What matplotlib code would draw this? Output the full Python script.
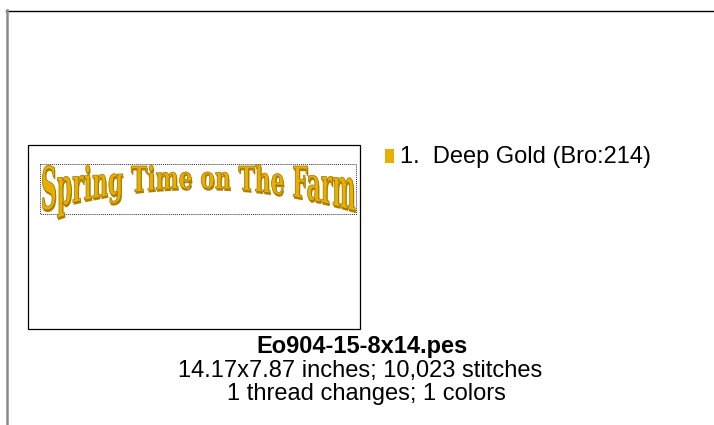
import matplotlib
matplotlib.use("Agg")
import matplotlib.pyplot as plt
from matplotlib.textpath import TextPath
from matplotlib.font_manager import FontProperties
from matplotlib.patches import PathPatch, Rectangle
from matplotlib.path import Path

# design info
design_text = "Spring Time on The Farm"
file_name = "Eo904-15-8x14.pes"
size_in = (14.17, 7.87)
stitches = 10023
thread_changes = 1
n_colors = 1
thread_names = ["Deep Gold (Bro:214)"]
thread_colors = ["#E8AF00"]

fig = plt.figure(figsize=(7.14, 4.25), dpi=100)
ax = fig.add_axes([0, 0, 1, 1])
ax.set_xlim(0, 714)
ax.set_ylim(425, 0)
ax.axis("off")

# outer frame
ax.plot([6, 714], [10.5, 10.5], color="black", lw=1.0)
ax.plot([6.5, 6.5], [10, 425], color="#8a8a8a", lw=1.8)

# design box and hoop outline
ax.add_patch(Rectangle((28, 145), 332, 184, fill=False, ec="black", lw=0.9))
ax.add_patch(Rectangle((40, 164), 316, 50, fill=False, ec="#333333", lw=0.7, ls=(0, (1, 1))))

# arched lettering (bottom warp)
fp = FontProperties(family="DejaVu Serif", weight="bold")
tp = TextPath((0, 0), design_text, size=10, prop=fp)
cap = TextPath((0, 0), "T", size=10, prop=fp).vertices[:, 1].max()
verts = tp.vertices.copy()
x0, x1 = verts[:, 0].min(), verts[:, 0].max()
u = (verts[:, 0] - x0) / (x1 - x0)
v = verts[:, 1] / cap
top = 166
bottom = 188 + 23 * (2 * u - 1) ** 2
X = 41 + u * 314
Y = bottom - v * (bottom - top)

shadow = Path(list(zip(X + 0.8, Y + 2.2)), tp.codes)
ax.add_patch(PathPatch(shadow, fc="#B07E00", ec="none"))
face = Path(list(zip(X, Y)), tp.codes)
ax.add_patch(PathPatch(face, fc=thread_colors[0], ec="#9C7400", lw=0.5))

# thread legend
for i, (name, col) in enumerate(zip(thread_names, thread_colors)):
    ax.add_patch(Rectangle((385, 149 + i * 22), 9, 14, fc=col, ec="none"))
    ax.text(400, 157 + i * 22, f"{i + 1}.  {name}", fontsize=17,
            family="Liberation Sans", va="center", ha="left")

# caption
ax.text(362, 347, file_name, fontsize=17, family="Liberation Sans",
        weight="bold", ha="center", va="center")
ax.text(360, 371, f"{size_in[0]:.2f}x{size_in[1]:.2f} inches; {stitches:,} stitches",
        fontsize=17, family="Liberation Sans", ha="center", va="center")
ax.text(366, 394, f"{thread_changes} thread changes; {n_colors} colors",
        fontsize=17, family="Liberation Sans", ha="center", va="center")

fig.savefig("out.png", dpi=100)
